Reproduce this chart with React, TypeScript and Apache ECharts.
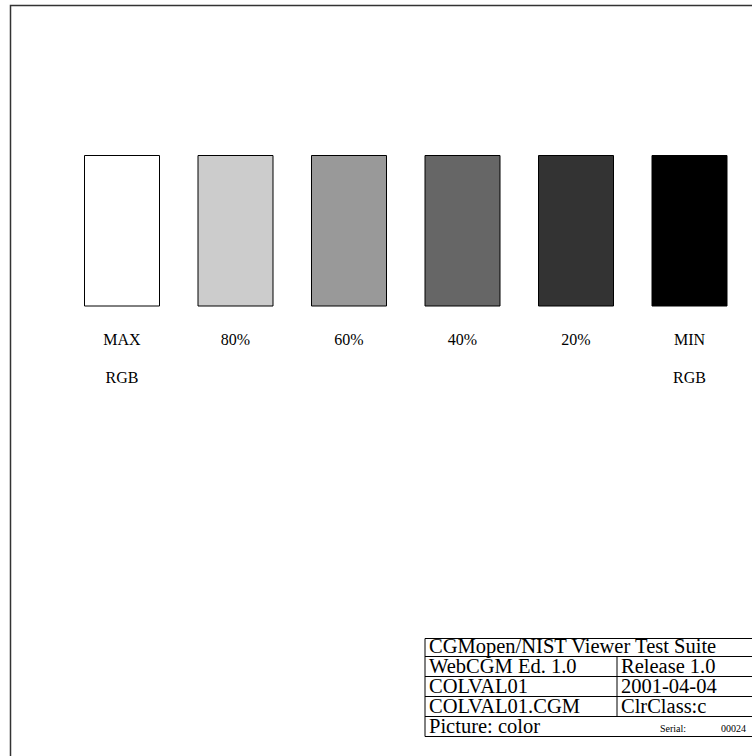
import React, { useEffect, useRef } from "react";
import * as echarts from "echarts";

const categories = ["MAX", "80%", "60%", "40%", "20%", "MIN"];
const subLabels = ["RGB", "", "", "", "", "RGB"];
const barValues = [1, 1, 1, 1, 1, 1];
const barColors = ["#ffffff", "#cccccc", "#999999", "#666666", "#333333", "#000000"];

const tableTitle = "CGMopen/NIST Viewer Test Suite";
const tableLeft = ["WebCGM Ed. 1.0", "COLVAL01", "COLVAL01.CGM"];
const tableRight = ["Release 1.0", "2001-04-04", "ClrClass:c"];
const footerLeft = "Picture: color";
const serialLabel = "Serial:";
const serialValue = "00024";

const FONT = "'Liberation Serif', 'Times New Roman', serif";

export default function App() {
  const ref = useRef<HTMLDivElement>(null);
  useEffect(() => {
    if (!ref.current) return;
    const chart = echarts.init(ref.current, undefined, { renderer: "svg" });

    const tX = 425;
    const tTop = 638.5;
    const rowLines = [656.5, 676.5, 696.5, 716.5, 736.5];
    const divX = 617;
    const graphics: any[] = [];
    graphics.push({
      type: "rect",
      shape: { x: 10.5, y: 5.5, width: 900, height: 900 },
      style: { fill: "none", stroke: "#333", lineWidth: 1.5 },
      silent: true,
    });
    graphics.push({
      type: "rect",
      shape: { x: tX, y: tTop, width: 400, height: rowLines[4] - tTop },
      style: { fill: "#fff", stroke: "#000", lineWidth: 1 },
    });
    rowLines.slice(0, 4).forEach((y) => {
      graphics.push({
        type: "line",
        shape: { x1: tX, y1: y, x2: 800, y2: y },
        style: { stroke: "#000", lineWidth: 1 },
      });
    });
    graphics.push({
      type: "line",
      shape: { x1: divX, y1: rowLines[0], x2: divX, y2: rowLines[3] },
      style: { stroke: "#000", lineWidth: 1 },
    });
    const txt = (text: string, x: number, y: number, size: number) => ({
      type: "text",
      x,
      y,
      style: { text, fontSize: size, fontFamily: FONT, fill: "#000", verticalAlign: "bottom", align: "left" },
    });
    graphics.push(txt(tableTitle, 429, rowLines[0], 20.5));
    tableLeft.forEach((t, i) => graphics.push(txt(t, 429, rowLines[i + 1], 20.5)));
    tableRight.forEach((t, i) => graphics.push(txt(t, 621, rowLines[i + 1], 20.5)));
    graphics.push(txt(footerLeft, 429, rowLines[4], 20.5));
    graphics.push(txt(serialLabel, 660, rowLines[4] - 3, 10));
    graphics.push(txt(serialValue, 721, rowLines[4] - 3, 10));

    chart.setOption({
      animation: false,
      backgroundColor: "#ffffff",
      grid: { left: 65.25, right: 5.75, top: 155, bottom: 449.5, containLabel: false },
      xAxis: {
        type: "category",
        data: categories,
        axisLine: { show: false },
        axisTick: { show: false },
        axisLabel: {
          margin: 14,
          fontSize: 16,
          fontFamily: FONT,
          color: "#000",
          lineHeight: 38,
          formatter: (v: string, i: number) => (subLabels[i] ? v + "\n" + subLabels[i] : v),
        },
      },
      yAxis: { type: "value", min: 0, max: 1, show: false },
      series: [
        {
          type: "bar",
          barWidth: 76,
          data: barValues.map((v, i) => ({
            value: v,
            itemStyle: { color: barColors[i], borderColor: "#000", borderWidth: 1 },
          })),
        },
      ],
      graphic: graphics,
    });
    return () => chart.dispose();
  }, []);
  return <div ref={ref} style={{ position: "fixed", left: 0, top: 0, width: 752, height: 756 }} />;
}
